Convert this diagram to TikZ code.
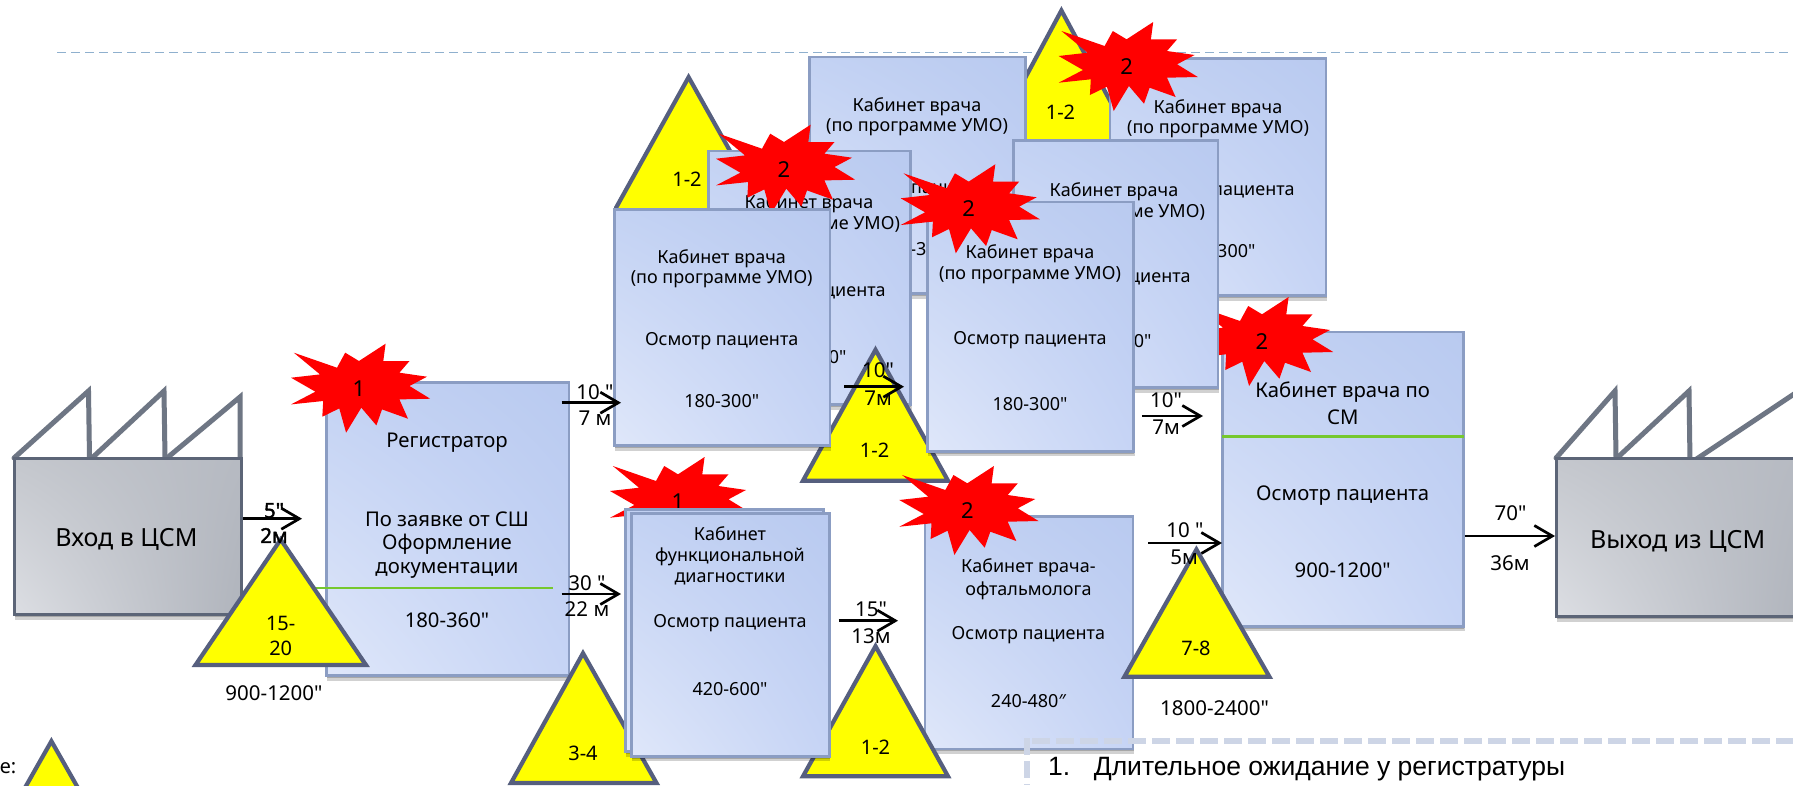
\documentclass[tikz,border=0pt]{standalone}
\usepackage{fontspec}
\newfontfamily\nsans{Noto Sans}
\newfontfamily\nsansb[FakeBold=2]{Noto Sans}
\newfontfamily\lsans{Liberation Sans}
\usetikzlibrary{arrows.meta,shadows,shadings}
\definecolor{boxline}{HTML}{8B9DC3}
\definecolor{facline}{HTML}{6E7684}
\definecolor{facbase}{HTML}{5C6577}
\definecolor{triline}{HTML}{565F7E}
\definecolor{trifill}{RGB}{255,255,0}
\definecolor{burstred}{RGB}{255,0,0}
\definecolor{greenl}{HTML}{76C82E}
\definecolor{dashtop}{HTML}{8FB0CE}
\definecolor{dashbot}{HTML}{CDD5E6}
\definecolor{cabLL}{HTML}{DFE7FA}\definecolor{cabUL}{HTML}{C3D2F3}
\definecolor{cabUR}{HTML}{B9CAF0}\definecolor{cabLR}{HTML}{C6D4F5}
\definecolor{facLL}{HTML}{DCDEE3}\definecolor{facUL}{HTML}{C4C7CD}
\definecolor{facUR}{HTML}{B6BAC2}\definecolor{facLR}{HTML}{B0B4BC}
\tikzset{
 softshadow/.style={drop shadow={shadow xshift=1pt,shadow yshift=-5pt,opacity=.18,fill=black},
                    drop shadow={shadow xshift=.5pt,shadow yshift=-2.5pt,opacity=.2,fill=black}},
 cabbox/.style={draw=boxline,line width=2.6pt,inner sep=0pt,softshadow,
   lower left=cabLL,upper left=cabUL,upper right=cabUR,lower right=cabLR},
 facbox/.style={draw=facbase,line width=3.4pt,inner sep=0pt,softshadow,
   lower left=facLL,upper left=facUL,upper right=facUR,lower right=facLR},
 roof/.style={draw=facline,line width=5pt,line cap=round,line join=miter},
 tribody/.style={draw=triline,fill=trifill,line width=4.2pt,line join=miter},
 burstbody/.style={fill=burstred,draw=none},
 flow/.style={draw=black,line width=2.7pt,-{Straight Barb[length=18pt,width=21pt]}},
 t/.style={inner sep=0pt,text=black,yshift=-1.5pt},
 big/.style={t,font=\nsans\fontsize{25}{30}\selectfont},
 mid/.style={t,font=\nsans\fontsize{20.3}{23}\selectfont},
 cab/.style={t,font=\nsans\fontsize{18}{20}\selectfont},
 small/.style={t,font=\nsans\fontsize{20}{22}\selectfont},
 flab/.style={t,font=\nsans\fontsize{20.5}{22}\selectfont},
 blab/.style={t,font=\nsansb\fontsize{20.5}{22}\selectfont},
 num/.style={t,font=\nsans\fontsize{22}{24}\selectfont},
 listt/.style={inner sep=0pt,text=black,anchor=base west,font=\lsans\fontsize{26.5}{30}\selectfont},
 greenrule/.style={draw=greenl,line width=2.6pt},
}
% name, x1,y1,x2,y2, style
\newcommand\rectnode[6]{\pgfmathsetmacro\rw{#4-#2-.8}\pgfmathsetmacro\rh{#5-#3-.8}%
 \node[#6,minimum width=\rw pt,minimum height=\rh pt,anchor=center] (#1) at ({(#2+#4)/2},{(#3+#5)/2}) {};}
\newcommand\tri[7]{\draw[tribody] (#2,{#3+.5}) -- ({#4+1},{#6-1}) -- ({#5-1},{#6-1}) -- cycle;}
\newcommand\burst[4]{\begin{scope}[shift={(#2,#3)}]
 \path[burstbody] (-65.2,-34) -- (-22,-19) -- (-13.8,-34) -- (0,-25.7) -- (26.6,-43) -- (24.3,-25.7)
 -- (50.5,-25.7) -- (40.4,-14) -- (68,-10) -- (50.5,-.7) -- (71.2,12) -- (40.4,12.7) -- (49,32)
 -- (23,22.7) -- (17.4,38.7) -- (2.3,21) -- (-12.9,46) -- (-19.7,21.7) -- (-36.7,30) -- (-35.8,14.3)
 -- (-68,17.7) -- (-43.6,5) -- (-68,-9) -- (-39,-12.3) -- cycle;
 \node[num] (#1) at (0,0) {#4};
 \end{scope}}
\newcommand\cabtext[7]{% prefix, x, y1,y2,y3,y4 , value
 \node[cab] (#1a) at (#2,#3) {Кабинет врача};
 \node[cab] (#1b) at (#2,#4) {(по программе УМО)};
 \node[cab] (#1c) at (#2,#5) {Осмотр пациента};
 \node[cab] (#1d) at (#2,#6) {#7};}
\begin{document}
\begin{tikzpicture}[x=1pt,y=-1pt]
\useasboundingbox (0,0) rectangle (1793,785);
\clip (0,0) rectangle (1793,785);
\fill[white] (0,0) rectangle (1793,785);
% top dashed rule
\coordinate (topA) at (57,52.5); \coordinate (topB) at (1793,52.5);
\draw[dashtop,line width=1.7pt,dash pattern=on 9pt off 5pt] (topA) -- (topB);

% entry factory
\draw[roof] (14,458) -- (88.5,391) -- (89.5,458);
\draw[roof] (92,458) -- (164,391) -- (165,458);
\draw[roof] (167,458) -- (240,397) -- (240,462);
\rectnode{fin}{14}{458}{242}{615}{facbox}
\node[big] (fintxt) at (126.5,538) {Вход в ЦСМ};

% registrar
\rectnode{reg}{326}{382}{569.5}{676}{cabbox}
\node[mid] (rega) at (447,441) {Регистратор};
\node[mid] (regb) at (447,517.7) {По заявке от СШ};
\node[mid] (regc) at (447,543) {Оформление};
\node[mid] (regd) at (447,569) {документации};
\node[mid] (rege) at (447,619) {180-360"};
\coordinate (regg1) at (314,588); \coordinate (regg2) at (553,588);
\draw[greenrule] (regg1) -- (regg2);
\burst{s1}{359}{386.7}{1}

% triangle 15-20
\tri{t1}{280.7}{539}{194.5}{367}{666}{}
\node[small] (t1a) at (280.7,621.7) {15-};
\node[small] (t1b) at (280.7,647) {20};
\node[flab] (t1c) at (274,692) {900-1200"};
\coordinate (a1s) at (243,518.7); \coordinate (a1e) at (302,518.7);
\draw[flow] (a1s) -- (a1e);
\node[blab] (a1t) at (274,509) {5"};
\node[blab] (a1b) at (274,534) {2м};

\coordinate (a3s) at (561.5,594); \coordinate (a3e) at (621,594);
\draw[flow] (a3s) -- (a3e);
\node[flab] (a3t) at (587,582) {30 "};
\node[flab] (a3b) at (587,608) {22 м};

% legend
\node[small,anchor=east] (legt) at (16.5,766.5) {е:};
\tri{t0}{51.4}{740.7}{-21}{124}{868}{}

% triangle 3-4
\tri{t2}{583}{652.7}{510}{657.5}{784}{}
\node[small] (t2a) at (583,751.7) {3-4};

% back triangles
\begin{scope}
\clip (614,0) rectangle (800,300);
\tri{ta}{688.6}{76.7}{611}{767}{216}{}
\end{scope}
\node[small] (taa) at (687,178) {1-2};
\tri{tb}{1061.4}{10}{986}{1137}{150}{}
\node[small] (tba) at (1060.5,111) {1-2};
% back left cabinet
\rectnode{bl}{809}{56.7}{1026}{294}{cabbox}
\cabtext{blt}{917}{105}{126}{188}{248}{180-300"}
% back right cabinet
\rectnode{br}{1109.6}{58.3}{1326.5}{296}{cabbox}
\cabtext{brt}{1218}{107}{127.7}{190}{250}{180-300"}
% mid left cabinet
\rectnode{ml}{708}{150.7}{911}{405}{cabbox}
\cabtext{mlt}{809}{202}{224}{291}{356}{180-300"}
\burst{s2}{784}{167.7}{2}
% middle triangle
\tri{tm}{875.5}{349.3}{802}{949}{481.7}{}
\node[small] (tma) at (874.6,449) {1-2};
% right star, cm box
\rectnode{cm}{1222}{331.7}{1464}{626.7}{cabbox}
\node[mid] (cma) at (1342.7,391) {Кабинет врача по};
\node[mid] (cmb) at (1342.7,416) {СМ};
\coordinate (cmg1) at (1222,436.7); \coordinate (cmg2) at (1464,436.7);
\draw[greenrule] (cmg1) -- (cmg2);
\node[mid] (cmc) at (1342.7,494) {Осмотр пациента};
\node[mid] (cmd) at (1342.7,569) {900-1200"};
\burst{s5}{1262}{340}{2}
% mid right cabinet
\rectnode{mr}{1013}{140}{1218.5}{388}{cabbox}
\cabtext{mrt}{1114}{190}{211.7}{276.7}{340}{180-300"}
% front cabinets
\rectnode{fl}{613.8}{209}{830.5}{446}{cabbox}
\cabtext{flt}{721.7}{257}{277.7}{340}{400}{180-300"}
\rectnode{fr}{927}{201.7}{1134}{451.7}{cabbox}
\cabtext{frt}{1030}{252}{274}{339}{402.7}{180-300"}
\burst{s3}{968.7}{207.3}{2}
\burst{s4}{1126.6}{65}{2}

% arrows over the cabinets
\coordinate (a2s) at (561.5,402.7); \coordinate (a2e) at (621,402.7);
\draw[flow] (a2s) -- (a2e);
\node[flab] (a2t) at (595,391) {10 "};
\node[flab] (a2b) at (595,417) {7 м};
\coordinate (a4s) at (844,386.7); \coordinate (a4e) at (904,386.7);
\draw[flow] (a4s) -- (a4e);
\node[flab] (a4t) at (878,369) {10"};
\node[flab] (a4b) at (878,396.7) {7м};
\coordinate (a5s) at (1141.8,416); \coordinate (a5e) at (1203,416);
\draw[flow] (a5s) -- (a5e);
\node[flab] (a5t) at (1166,399) {10"};
\node[flab] (a5b) at (1166,425.7) {7м};

% functional diagnostics
\burst{s6}{678}{500}{1}
\rectnode{ophth}{924.6}{516}{1133.5}{749.3}{cabbox}
\node[cab] (opa) at (1028.4,566.7) {Кабинет врача-};
\node[cab] (opb) at (1028.4,589) {офтальмолога};
\node[cab] (opc) at (1028.4,634) {Осмотр пациента};
\node[cab] (opd) at (1028.4,700) {240-480″};
\burst{s7}{967.3}{509}{2}
\tri{tl}{875.5}{645.7}{802}{949}{777.3}{}
\node[small] (tla) at (875.5,745.7) {1-2};
\rectnode{fdb}{625}{509}{824}{752}{cabbox}
\rectnode{fd}{631}{513.3}{829.6}{756.7}{cabbox}
\node[cab] (fda) at (730,532.3) {Кабинет};
\node[cab] (fdb2) at (730,555) {функциональной};
\node[cab] (fdc) at (730,577) {диагностики};
\node[cab] (fdd) at (730,621.7) {Осмотр пациента};
\node[cab] (fde) at (730,688) {420-600"};
\coordinate (a6s) at (838.7,620.7); \coordinate (a6e) at (898,620.7);
\draw[flow] (a6s) -- (a6e);
\node[flab] (a6t) at (871,608) {15"};
\node[flab] (a6b) at (871,635) {13м};

% triangle 7-8
\coordinate (a7s) at (1148,543); \coordinate (a7e) at (1222,543);
\draw[flow] (a7s) -- (a7e);
\tri{t78}{1196.4}{549}{1123.4}{1270.4}{677.7}{}
\node[flab] (a7t) at (1185,529) {10 "};
\node[flab] (a7b) at (1184,555.7) {5м};
\node[small] (t78a) at (1196,646.7) {7-8};
\node[flab] (t78b) at (1214.6,707) {1800-2400"};

% exit factory
\draw[roof] (1556,458) -- (1615,391) -- (1616,458);
\draw[roof] (1617,458) -- (1689,391) -- (1690,462);
\draw[roof] (1692,462) -- (1800,390);
\rectnode{fout}{1556}{458}{1802}{617}{facbox}
\node[big] (fouttxt) at (1677.6,540) {Выход из ЦСМ};
\coordinate (a8s) at (1464.5,536); \coordinate (a8e) at (1555,536);
\draw[flow] (a8s) -- (a8e);
\node[flab] (a8t) at (1510.5,511.7) {70"};
\node[flab] (a8b) at (1510,562) {36м};

% list panel
\coordinate (lh1) at (1032,741); \coordinate (lh2) at (1793,741);
\coordinate (lv1) at (1027,738); \coordinate (lv2) at (1027,785);
\draw[dashbot,line width=5.5pt,dash pattern=on 18pt off 6pt] (lh1) -- (lh2);
\draw[dashbot,line width=5.5pt,dash pattern=on 17pt off 6pt] (lv1) -- (lv2);
\node[listt] (l1) at (1048,775) {1.};
\node[listt] (l2) at (1093.6,775) {Длительное ожидание у регистратуры};
\end{tikzpicture}
\end{document}
